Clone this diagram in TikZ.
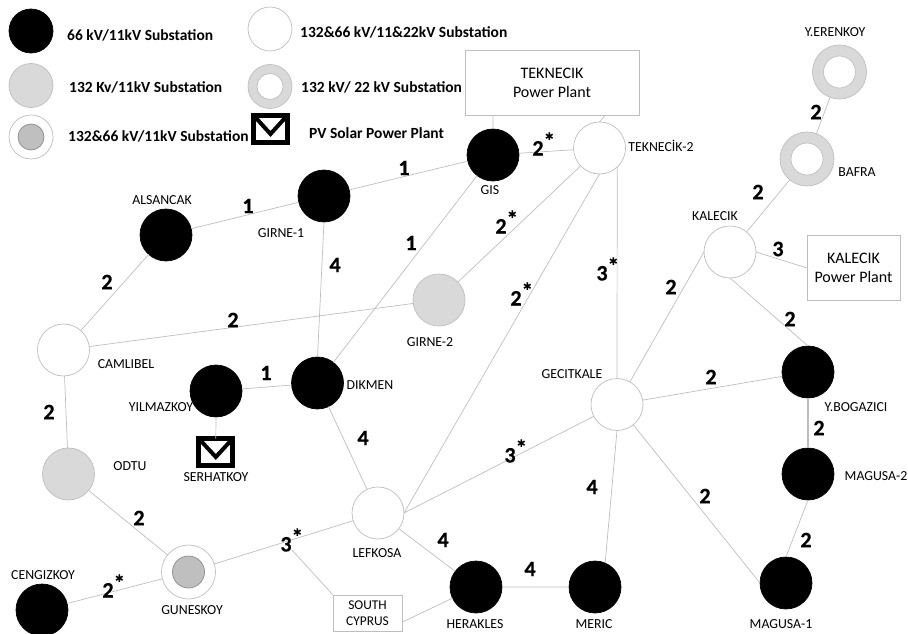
\documentclass[tikz,border=0pt]{standalone}
\usepackage{fontspec}
\setmainfont{Carlito}
\newfontfamily\numf[FakeBold=0.5]{Carlito Bold}
\definecolor{ln}{HTML}{BEBEBE}
\definecolor{gf}{HTML}{D9D9D9}
\definecolor{gi}{HTML}{BFBFBF}
\newcommand{\st}{\rlap{\raisebox{.3em}{\fontsize{23}{23}\selectfont *}}}
\tikzset{
 sub/.style={circle,inner sep=0pt,outer sep=0pt,minimum size=52pt,draw=ln,line width=.7pt},
 bk/.style={sub,fill=black,draw=black},
 gy/.style={sub,fill=gf},
 wh/.style={sub,fill=white},
 rg/.style={sub,fill=gf,minimum size=54pt},
 rgin/.style={sub,fill=white,minimum size=32pt},
 mx/.style={sub,fill=white,minimum size=54pt},
 mxin/.style={sub,fill=gi,draw=gray!90,minimum size=32pt},
 bx/.style={draw=ln,line width=.8pt,fill=white,inner sep=0pt,outer sep=0pt,align=center},
 env/.style={draw=black,line width=5pt,fill=white,inner sep=0pt,outer sep=0pt,minimum width=34pt,minimum height=27pt},
 lg/.style={font=\fontsize{15.5}{17}\selectfont\bfseries,anchor=west,inner sep=0pt},
 nm/.style={font=\fontsize{13.8}{15}\selectfont,inner sep=0pt},
 num/.style={font=\fontsize{22}{24}\numf,inner sep=0pt},
 ed/.style={draw=ln,line width=.7pt}
}
\begin{document}
\begin{tikzpicture}[x=1pt,y=-1pt]
\useasboundingbox (0,0) rectangle (908,634);
\clip (0,0) rectangle (908,634);
% legend
\node[bk,minimum size=44pt] (l1) at (31,31) {};
\node[gy,minimum size=44pt] (l2) at (31,85.5) {};
\node[mx,minimum size=44pt] (l3) at (31,137) {};
\node[mxin,minimum size=26pt] (l3i) at (31,137) {};
\node[wh,minimum size=44pt] (l4) at (270,29) {};
\node[rg,minimum size=44pt] (l5) at (270,86.5) {};
\node[rgin,minimum size=26pt] (l5i) at (270,86.5) {};
\node[env] (l6) at (270.5,129) {};
\draw[line width=4pt] (256,118) -- (270.5,134) -- (285,118);
\node[lg] (t1) at (67,35) {66 kV/11kV Substation};
\node[lg] (t2) at (69,87) {132 Kv/11kV Substation};
\node[lg] (t3) at (68,136) {132\&66 kV/11kV Substation};
\node[lg] (t4) at (300,32) {132\&66 kV/11\&22kV Substation};
\node[lg] (t5) at (301,87) {132 kV/ 22 kV Substation};
\node[lg] (t6) at (309,133) {PV Solar Power Plant};
% boxes
\node[bx,minimum width=174pt,minimum height=65pt,font=\fontsize{16}{19.5}\selectfont] (tek) at (552,83) {TEKNECIK\\Power Plant};
\node[bx,minimum width=93pt,minimum height=65pt,font=\fontsize{16}{19.5}\selectfont] (kal) at (853.5,268) {KALECIK\\Power Plant};
\node[bx,minimum width=69pt,minimum height=36pt,font=\fontsize{13.4}{16.5}\selectfont] (sc) at (367.5,613) {SOUTH\\CYPRUS};
% substations
\node[bk] (gis) at (493,155) {};
\node[wh] (t2n) at (599.5,148) {};
\node[rg] (yer) at (839.5,72) {};
\node[rgin] (yeri) at (839.5,72) {};
\node[rg] (baf) at (807,159) {};
\node[rgin] (bafi) at (807,159) {};
\node[wh] (kln) at (730,252) {};
\node[bk] (als) at (166,235) {};
\node[bk] (gr1) at (324,196) {};
\node[gy] (gr2) at (439,300) {};
\node[wh] (cam) at (63.5,350) {};
\node[bk] (yil) at (216,391) {};
\node[bk] (dik) at (317.5,383) {};
\node[gy] (odt) at (68.5,474) {};
\node[mx] (gun) at (188.5,572) {};
\node[mxin] (guni) at (188.5,572) {};
\node[wh] (lef) at (378,513) {};
\node[bk] (cen) at (42,610) {};
\node[bk] (her) at (476,587) {};
\node[bk] (mer) at (595,587) {};
\node[bk] (ma1) at (786,583) {};
\node[bk] (ma2) at (808,474) {};
\node[bk] (ybo) at (808,372) {};
\node[wh] (gec) at (617,404.5) {};
\node[env] (ser) at (215.8,452) {};
\draw[line width=4pt] (201,441) -- (215.8,457) -- (230.5,441);
\coordinate (jn) at (292,550);
% connectors
\path[ed]
 (als) -- (gr1) (gr1) -- (gis) (gis.north) -- (gis.north |- tek.south)
 (t2n.north) -- ++(5,-6) (gis) -- (t2n) (gr1.south) -- (dik.north) (gis) -- (dik)
 (t2n) -- (gr2) (t2n.south) -- (lef.east)
 (t2n.-47) -- (gec.north) (cam) -- (als) (cam) -- (gr2) (cam) -- (odt)
 (odt) -- (gun) (cen) -- (gun) (gun) -- (lef) (jn) -- (sc.north west)
 (sc.-15) -- (her) (lef) -- (her) (lef) -- (dik) (lef.east) -- (gec)
 (her) -- (mer) (gec.south) -- (mer.67) (gec) -- (ma1.west) (gec) -- (ybo) (gec) -- (kln.west)
 (kln.south) -- (ybo.north) (kln.east) -- (kal.west) (kln) -- (baf) (baf) -- (yer)
 (ma2.south) -- (ma1.north) (yil) -- (dik) (yil.south) -- (ser.north);
\draw[ln,line width=1.5pt] (ybo.south) -- (ma2.north);
% names
\node[nm] (n1) at (835,32) {Y.ERENKOY};
\node[nm] (n2) at (857,172) {BAFRA};
\node[nm] (n3) at (715,216) {KALECIK};
\node[nm] (n4) at (661,146) {TEKNECİK-2};
\node[nm] (n5) at (490,190) {GIS};
\node[nm] (n6) at (162,200) {ALSANCAK};
\node[nm] (n7) at (281,233) {GIRNE-1};
\node[nm] (n8) at (430,342) {GIRNE-2};
\node[nm] (n9) at (126,364) {CAMLIBEL};
\node[nm] (n10) at (161,407) {YILMAZKOY};
\node[nm] (n11) at (370,385) {DIKMEN};
\node[nm] (n12) at (130,466) {ODTU};
\node[nm] (n13) at (216,477) {SERHATKOY};
\node[nm] (n14) at (377,553) {LEFKOSA};
\node[nm] (n15) at (192,610) {GUNESKOY};
\node[nm] (n16) at (43,575) {CENGIZKOY};
\node[nm] (n17) at (475,624) {HERAKLES};
\node[nm] (n18) at (594,624) {MERIC};
\node[nm] (n19) at (781,624) {MAGUSA-1};
\node[nm] (n20) at (876,476) {MAGUSA-2};
\node[nm] (n21) at (856,407) {Y.BOGAZICI};
\node[nm] (n22) at (572,374) {GECITKALE};
% numbers
\foreach \i/\p/\s in {a/{404,168}/1,b/{248,206}/1,c/{335,265}/4,d/{411,243}/1,e/{107,282}/2,f/{233,320}/2,
 g/{501,222}/2\st,h/{516,294}/2\st,i/{602,269}/3\st,j/{538,144}/2\st,k/{671,287}/2,l/{790,319}/2,
 m/{758,192}/2,n/{816,112}/2,o/{778,249}/3,p/{711,377}/2,q/{266,373}/1,r/{363,438}/4,s/{49,412}/2,
 u/{510,451}/3\st,v/{592,487}/4,w/{705,496}/2,x/{819,428}/2,y/{806,540}/2,z/{139,518}/2,
 aa/{108,586}/2\st,ab/{286,540}/3\st,ac/{443,540}/4,ad/{530,569}/4}
 {\node[num] (v\i) at (\p) {\s};}
\end{tikzpicture}
\end{document}
